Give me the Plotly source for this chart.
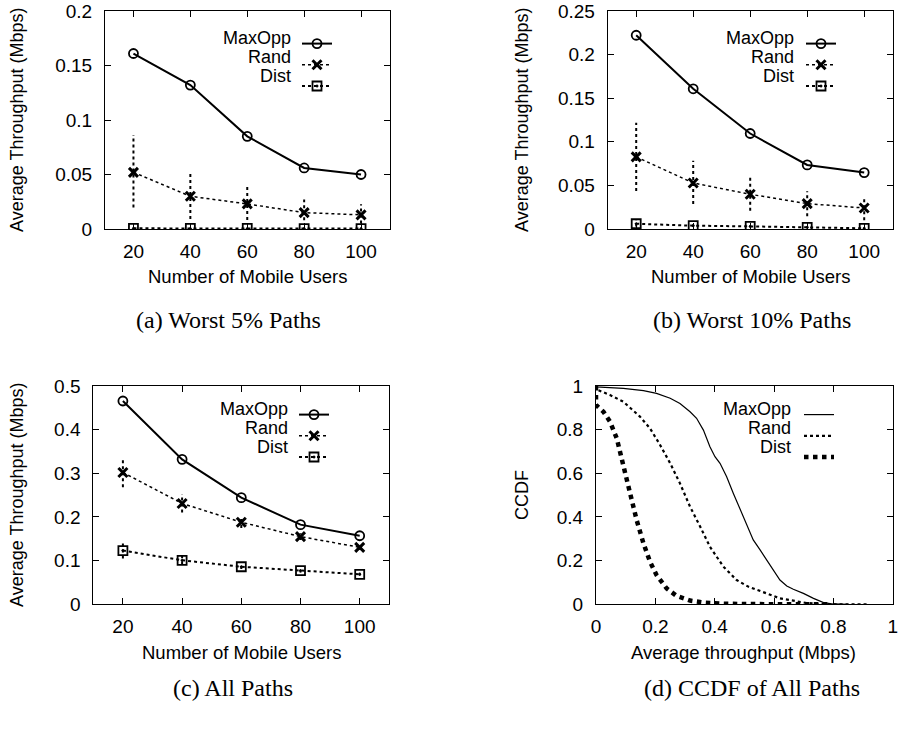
import plotly.graph_objects as go

# ---------------- data ----------------
users = [20, 40, 60, 80, 100]

# (a) worst 5% paths
a_maxopp = [0.161, 0.132, 0.085, 0.056, 0.050]
a_rand = [0.052, 0.030, 0.023, 0.015, 0.013]
a_rand_lo = [0.0198, 0.0091, 0.0082, 0.0080, 0.0050]
a_rand_hi = [0.0862, 0.0518, 0.0400, 0.0270, 0.0227]
a_dist = [0.0006, 0.0005, 0.0005, 0.0004, 0.0004]

# (b) worst 10% paths
b_maxopp = [0.2222, 0.1608, 0.1095, 0.0735, 0.0647]
b_rand = [0.0827, 0.0528, 0.0398, 0.0291, 0.0241]
b_rand_lo = [0.0436, 0.0287, 0.0210, 0.0145, 0.0100]
b_rand_hi = [0.1219, 0.0783, 0.0588, 0.0433, 0.0356]
b_dist = [0.0060, 0.0038, 0.0030, 0.0019, 0.0008]
b_dist_lo = [0.0030, 0.0025, 0.0020, 0.0010, 0.0002]
b_dist_hi = [0.0100, 0.0055, 0.0042, 0.0030, 0.0016]

# (c) all paths
c_maxopp = [0.4656, 0.3320, 0.2443, 0.1824, 0.1570]
c_rand = [0.302, 0.231, 0.188, 0.155, 0.1305]
c_rand_lo = [0.268, 0.210, 0.175, 0.147, 0.125]
c_rand_hi = [0.336, 0.252, 0.200, 0.163, 0.136]
c_dist = [0.123, 0.1008, 0.086, 0.077, 0.0687]
c_dist_lo = [0.105, 0.092, 0.081, 0.073, 0.066]
c_dist_hi = [0.140, 0.112, 0.092, 0.081, 0.072]

# (d) CCDF of all paths
d_maxopp_x = [0.0, 0.0, 0.092, 0.16, 0.204, 0.25, 0.283, 0.317, 0.339, 0.362, 0.384, 0.401,
              0.418, 0.44, 0.463, 0.485, 0.508, 0.53, 0.553, 0.575, 0.598, 0.62, 0.643,
              0.665, 0.699, 0.733, 0.767, 0.8, 0.85]
d_maxopp_y = [1.0, 0.996, 0.989, 0.979, 0.966, 0.944, 0.92, 0.882, 0.852, 0.798, 0.722, 0.676,
              0.646, 0.585, 0.508, 0.44, 0.371, 0.295, 0.249, 0.203, 0.157, 0.111, 0.084,
              0.069, 0.05, 0.027, 0.008, 0.0015, 0.0]
d_rand_x = [0.0, 0.0, 0.047, 0.092, 0.148, 0.182, 0.216, 0.25, 0.283, 0.317, 0.351, 0.384,
            0.429, 0.474, 0.513, 0.53, 0.575, 0.62, 0.665, 0.71, 0.755, 0.8, 0.918]
d_rand_y = [1.0, 0.985, 0.959, 0.928, 0.86, 0.806, 0.73, 0.646, 0.554, 0.447, 0.356, 0.264,
            0.173, 0.111, 0.081, 0.073, 0.05, 0.027, 0.015, 0.006, 0.0015, 0.0, 0.0]
d_dist_x = [0.0, 0.0, 0.025, 0.047, 0.07, 0.092, 0.115, 0.137, 0.16, 0.182, 0.204, 0.238,
            0.272, 0.317, 0.362, 0.429, 0.5, 0.78]
d_dist_y = [1.0, 0.913, 0.882, 0.837, 0.76, 0.646, 0.508, 0.386, 0.279, 0.195, 0.134, 0.073,
            0.038, 0.017, 0.008, 0.003, 0.001, 0.0]

series_names = ["MaxOpp", "Rand", "Dist"]
x_ticks = [20, 40, 60, 80, 100]
a_yticks = [0, 0.05, 0.1, 0.15, 0.2]
a_ytext = ["0", "0.05", "0.1", "0.15", "0.2"]
b_yticks = [0, 0.05, 0.1, 0.15, 0.2, 0.25]
b_ytext = ["0", "0.05", "0.1", "0.15", "0.2", "0.25"]
c_yticks = [0, 0.1, 0.2, 0.3, 0.4, 0.5]
c_ytext = ["0", "0.1", "0.2", "0.3", "0.4", "0.5"]
d_ticks = [0, 0.2, 0.4, 0.6, 0.8, 1]
d_text = ["0", "0.2", "0.4", "0.6", "0.8", "1"]
captions = ["(a) Worst 5% Paths", "(b) Worst 10% Paths", "(c) All Paths", "(d) CCDF of All Paths"]
ytitle_tp = "Average Throughput (Mbps)"
xtitle_users = "Number of Mobile Users"
ytitle_ccdf = "CCDF"
xtitle_ccdf = "Average throughput (Mbps)"

# ---------------- figure ----------------
W, H = 898, 730
SANS = "Liberation Sans, Arial, sans-serif"
SERIF = "Liberation Serif, Times New Roman, serif"

fig = go.Figure()


def seg(xs, lo, hi):
    sx, sy = [], []
    for x, l, h in zip(xs, lo, hi):
        sx += [x, x, None]
        sy += [l, h, None]
    return sx, sy


def add_panel(ax, maxopp, rand, dist, rand_err, dist_err, legend):
    xa = "x" if ax == 1 else f"x{ax}"
    ya = "y" if ax == 1 else f"y{ax}"
    if rand_err is not None:
        ex, ey = seg(users, *rand_err)
        fig.add_trace(go.Scatter(x=ex, y=ey, mode="lines", xaxis=xa, yaxis=ya, showlegend=False,
                                 line=dict(color="black", width=2, dash="dot"), hoverinfo="skip"))
    if dist_err is not None:
        ex, ey = seg(users, *dist_err)
        fig.add_trace(go.Scatter(x=ex, y=ey, mode="lines", xaxis=xa, yaxis=ya, showlegend=False,
                                 line=dict(color="black", width=2, dash="dot"), hoverinfo="skip"))
    fig.add_trace(go.Scatter(x=users, y=maxopp, name=" ", mode="lines+markers", xaxis=xa, yaxis=ya,
                             legend=legend, line=dict(color="black", width=2),
                             marker=dict(symbol="circle-open", size=9, color="black",
                                         line=dict(width=1.8, color="black"))))
    fig.add_trace(go.Scatter(x=users, y=rand, name=" ", mode="lines+markers", xaxis=xa, yaxis=ya,
                             legend=legend, line=dict(color="black", width=1.5, dash="dot"),
                             marker=dict(symbol="x-thin-open", size=9, color="black",
                                         line=dict(width=3, color="black"))))
    fig.add_trace(go.Scatter(x=users, y=dist, name=" ", mode="lines+markers", xaxis=xa, yaxis=ya,
                             legend=legend, line=dict(color="black", width=2, dash="dot"),
                             marker=dict(symbol="square-open-dot", size=9, color="black",
                                         line=dict(width=1.8, color="black"))))


add_panel(1, a_maxopp, a_rand, a_dist, (a_rand_lo, a_rand_hi), None, "legend")
add_panel(2, b_maxopp, b_rand, b_dist, (b_rand_lo, b_rand_hi), (b_dist_lo, b_dist_hi), "legend2")
add_panel(3, c_maxopp, c_rand, c_dist, (c_rand_lo, c_rand_hi), (c_dist_lo, c_dist_hi), "legend3")

# CCDF panel
fig.add_trace(go.Scatter(x=d_maxopp_x, y=d_maxopp_y, name=" ", mode="lines", xaxis="x4", yaxis="y4",
                         legend="legend4", line=dict(color="black", width=1.2)))
fig.add_trace(go.Scatter(x=d_rand_x, y=d_rand_y, name=" ", mode="lines", xaxis="x4", yaxis="y4",
                         legend="legend4", line=dict(color="black", width=2.2, dash="dot")))
fig.add_trace(go.Scatter(x=d_dist_x, y=d_dist_y, name=" ", mode="lines", xaxis="x4", yaxis="y4",
                         legend="legend4", line=dict(color="black", width=4.5, dash="dot")))


def px_x(v):
    return v / W


def px_y(v):
    return 1 - v / H


def axis_style(domain, rng, tickvals, ticktext, anchor):
    return dict(domain=domain, range=rng, tickvals=tickvals, ticktext=ticktext, anchor=anchor,
                showline=True, linecolor="black", linewidth=1, mirror="allticks",
                ticks="inside", ticklen=6, tickcolor="black", tickwidth=1,
                showgrid=False, zeroline=False, fixedrange=True, automargin=False,
                tickfont=dict(family=SANS, size=19, color="black"))


boxes = {
    1: (105, 389.5, 11, 229),
    2: (607.7, 892.7, 11, 229),
    3: (93.3, 389.3, 386, 604.3),
    4: (596, 892.7, 386, 604.3),
}

layout = dict(width=W, height=H, margin=dict(l=0, r=0, t=0, b=0, autoexpand=False),
              paper_bgcolor="white", plot_bgcolor="white", showlegend=True)

xinfo = {1: ([10, 110], x_ticks, [str(v) for v in x_ticks]),
         2: ([10, 110], x_ticks, [str(v) for v in x_ticks]),
         3: ([10, 110], x_ticks, [str(v) for v in x_ticks]),
         4: ([0, 1], d_ticks, d_text)}
yinfo = {1: ([0, 0.2], a_yticks, a_ytext),
         2: ([0, 0.25], b_yticks, b_ytext),
         3: ([0, 0.5], c_yticks, c_ytext),
         4: ([0, 1], d_ticks, d_text)}

for k, (l, r, t, b) in boxes.items():
    xs = "xaxis" if k == 1 else f"xaxis{k}"
    ys = "yaxis" if k == 1 else f"yaxis{k}"
    xa = "x" if k == 1 else f"x{k}"
    ya = "y" if k == 1 else f"y{k}"
    xd = axis_style([px_x(l), px_x(r)], *xinfo[k], anchor=ya)
    xd["ticklabelstandoff"] = 5
    yd = axis_style([px_y(b), px_y(t)], *yinfo[k], anchor=xa)
    yd["ticklabelstandoff"] = 8
    layout[xs] = xd
    layout[ys] = yd

leg_pos = {1: (303, 38), 2: (807, 38), 3: (300, 409), 4: (805, 409)}
leg_text_right = {1: 292, 2: 795, 3: 289, 4: 792}
for k, (sx, sy) in leg_pos.items():
    key = "legend" if k == 1 else f"legend{k}"
    layout[key] = dict(x=px_x(sx - 6), y=px_y(sy - 10), xanchor="left", yanchor="top",
                       bgcolor="rgba(0,0,0,0)", borderwidth=0, font=dict(size=14, family=SANS),
                       tracegroupgap=0, itemwidth=30)

annotations = []
for k, (sx, sy) in leg_pos.items():
    for i, nm in enumerate(series_names):
        annotations.append(dict(text=nm, xref="paper", yref="paper", x=px_x(leg_text_right[k]),
                                y=px_y(sy + 19 * i), xanchor="right", yanchor="middle",
                                showarrow=False, borderpad=0,
                                font=dict(family=SANS, size=18, color="black")))

ytitles = {1: (17, 120, ytitle_tp), 2: (522, 120, ytitle_tp), 3: (17, 495, ytitle_tp),
           4: (522, 495, ytitle_ccdf)}
for k, (x, y, txt) in ytitles.items():
    annotations.append(dict(text=txt, xref="paper", yref="paper", x=px_x(x), y=px_y(y),
                            xanchor="center", yanchor="middle", textangle=-90, showarrow=False,
                            font=dict(family=SANS, size=18, color="black")))
xtitles = {1: (247, 276, xtitle_users), 2: (750, 276, xtitle_users), 3: (241, 652, xtitle_users),
           4: (743, 652, xtitle_ccdf)}
for k, (x, y, txt) in xtitles.items():
    annotations.append(dict(text=txt, xref="paper", yref="paper", x=px_x(x), y=px_y(y),
                            xanchor="center", yanchor="middle", showarrow=False,
                            font=dict(family=SANS, size=18.5, color="black")))

cap_pos = [(228, 320), (752, 320), (233, 688), (752, 688)]
for (x, y), txt in zip(cap_pos, captions):
    annotations.append(dict(text=txt, xref="paper", yref="paper", x=px_x(x), y=px_y(y),
                            xanchor="center", yanchor="middle", showarrow=False,
                            font=dict(family=SERIF, size=24, color="black")))

layout["annotations"] = annotations
fig.update_layout(**layout)
fig.write_html("out.html")
